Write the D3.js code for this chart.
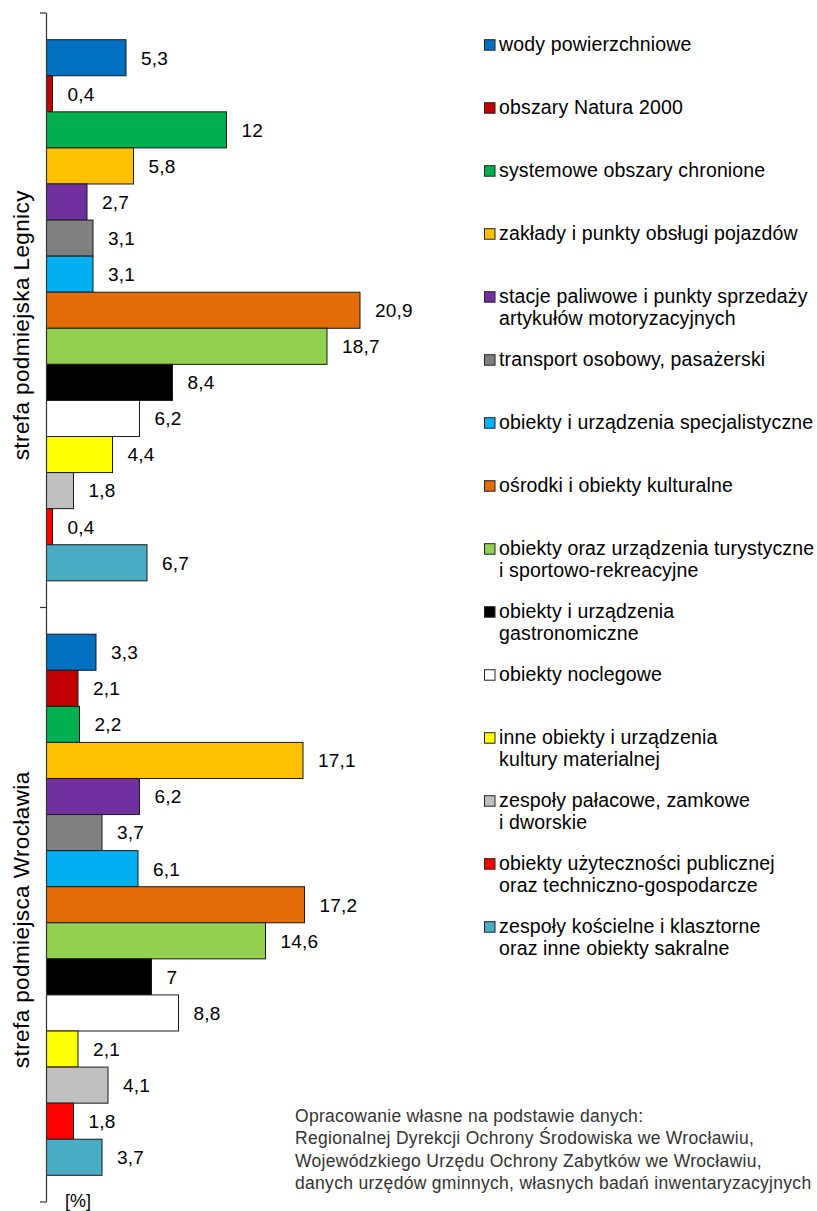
<!DOCTYPE html>
<html><head><meta charset="utf-8">
<script src="https://cdn.jsdelivr.net/npm/d3@7/dist/d3.min.js"></script>
<style>
html,body{margin:0;padding:0;background:#fff;}
svg{display:block;font-family:"Liberation Sans",Arial,sans-serif;}
</style></head>
<body>
<script>
const groups = ["strefa podmiejska Legnicy", "strefa podmiejsca Wrocławia"];
const categories = [
  "wody powierzchniowe",
  "obszary Natura 2000",
  "systemowe obszary chronione",
  "zakłady i punkty obsługi pojazdów",
  "stacje paliwowe i punkty sprzedaży\nartykułów motoryzacyjnych",
  "transport osobowy, pasażerski",
  "obiekty i urządzenia specjalistyczne",
  "ośrodki i obiekty kulturalne",
  "obiekty oraz urządzenia turystyczne\ni sportowo-rekreacyjne",
  "obiekty i urządzenia\ngastronomiczne",
  "obiekty noclegowe",
  "inne obiekty i urządzenia\nkultury materialnej",
  "zespoły pałacowe, zamkowe\ni dworskie",
  "obiekty użyteczności publicznej\noraz techniczno-gospodarcze",
  "zespoły kościelne i klasztorne\noraz inne obiekty sakralne"
];
const colors = ["#0070C0","#C00000","#00B050","#FFC000","#7030A0","#808080","#00B0F0","#E36C09","#92D050","#000000","#FFFFFF","#FFFF00","#C0C0C0","#FF0000","#4BACC6"];
const valuesLegnica = [5.3, 0.4, 12, 5.8, 2.7, 3.1, 3.1, 20.9, 18.7, 8.4, 6.2, 4.4, 1.8, 0.4, 6.7];
const valuesWroclaw = [3.3, 2.1, 2.2, 17.1, 6.2, 3.7, 6.1, 17.2, 14.6, 7, 8.8, 2.1, 4.1, 1.8, 3.7];
const unitLabel = "[%]";
const sourceLines = [
  "Opracowanie własne na podstawie danych:",
  "Regionalnej Dyrekcji Ochrony Środowiska we Wrocławiu,",
  "Wojewódzkiego Urzędu Ochrony Zabytków we Wrocławiu,",
  "danych urzędów gminnych, własnych badań inwentaryzacyjnych"
];

const W = 817, H = 1211;
const svg = d3.select("body").append("svg").attr("width", W).attr("height", H);

const series = [valuesLegnica, valuesWroclaw];
const x = d3.scaleLinear().domain([0, 25]).range([46.5, 46.5 + 375]);
const y0 = d3.scaleBand().domain(groups).range([13, 1202]).padding(0);
const y1 = d3.scaleBand().domain(d3.range(categories.length)).range([0, y0.bandwidth()]).paddingInner(0).paddingOuter(0.74);

const fmt = v => String(v).replace(".", ",");

groups.forEach((g, gi) => {
  const gy = y0(g);
  const grp = svg.append("g").attr("transform", `translate(0,${gy})`);
  grp.selectAll("rect").data(series[gi]).join("rect")
    .attr("x", x(0))
    .attr("y", (d, i) => y1(i))
    .attr("width", d => x(d) - x(0))
    .attr("height", y1.bandwidth())
    .attr("fill", (d, i) => colors[i])
    .attr("stroke", "#1a1a1a")
    .attr("stroke-width", 1);
  grp.selectAll("text.lbl").data(series[gi]).join("text")
    .attr("class", "lbl")
    .attr("x", d => x(d) + 15)
    .attr("y", (d, i) => y1(i) + y1.bandwidth() / 2)
    .attr("dy", "0.36em")
    .attr("font-size", 19)
    .attr("letter-spacing", 0.2)
    .attr("fill", "#000")
    .text(d => fmt(d));
  svg.append("text")
    .attr("transform", `translate(29,${gy + y0.bandwidth() / 2 + 15}) rotate(-90)`)
    .attr("text-anchor", "middle")
    .attr("font-size", 22.5)
    .attr("letter-spacing", 0.4)
    .attr("fill", "#000")
    .text(g);
});

// axis
const axisG = svg.append("g").attr("stroke", "#333").attr("stroke-width", 1.2);
axisG.append("line").attr("x1", 46.5).attr("x2", 46.5).attr("y1", y0.range()[0]).attr("y2", y0.range()[1]);
const tickYs = groups.map(g => y0(g)).concat([y0.range()[1]]);
axisG.selectAll("line.t").data(tickYs).join("line").attr("class", "t")
  .attr("x1", 40).attr("x2", 46.5).attr("y1", d => d).attr("y2", d => d);

svg.append("text").attr("x", 65).attr("y", 1207).attr("font-size", 18).attr("fill", "#000").text(unitLabel);

// legend
const lg = svg.append("g");
categories.forEach((c, i) => {
  const by = 50.7 + 63 * i;
  lg.append("rect").attr("x", 484.5).attr("y", by - 11).attr("width", 10.5).attr("height", 10.5)
    .attr("fill", colors[i]).attr("stroke", "#222").attr("stroke-width", 1);
  const t = lg.append("text").attr("x", 499).attr("y", by).attr("font-size", 19.5)
    .attr("letter-spacing", 0.15).attr("fill", "#000");
  c.split("\n").forEach((line, li) => {
    t.append("tspan").attr("x", 499).attr("y", by + li * 22).text(line);
  });
});

// source
const st = svg.append("text").attr("font-size", 17.5).attr("letter-spacing", 0.3).attr("fill", "#333");
sourceLines.forEach((l, i) => {
  st.append("tspan").attr("x", 295).attr("y", 1122 + i * 22.3).text(l);
});
</script>
</body></html>
